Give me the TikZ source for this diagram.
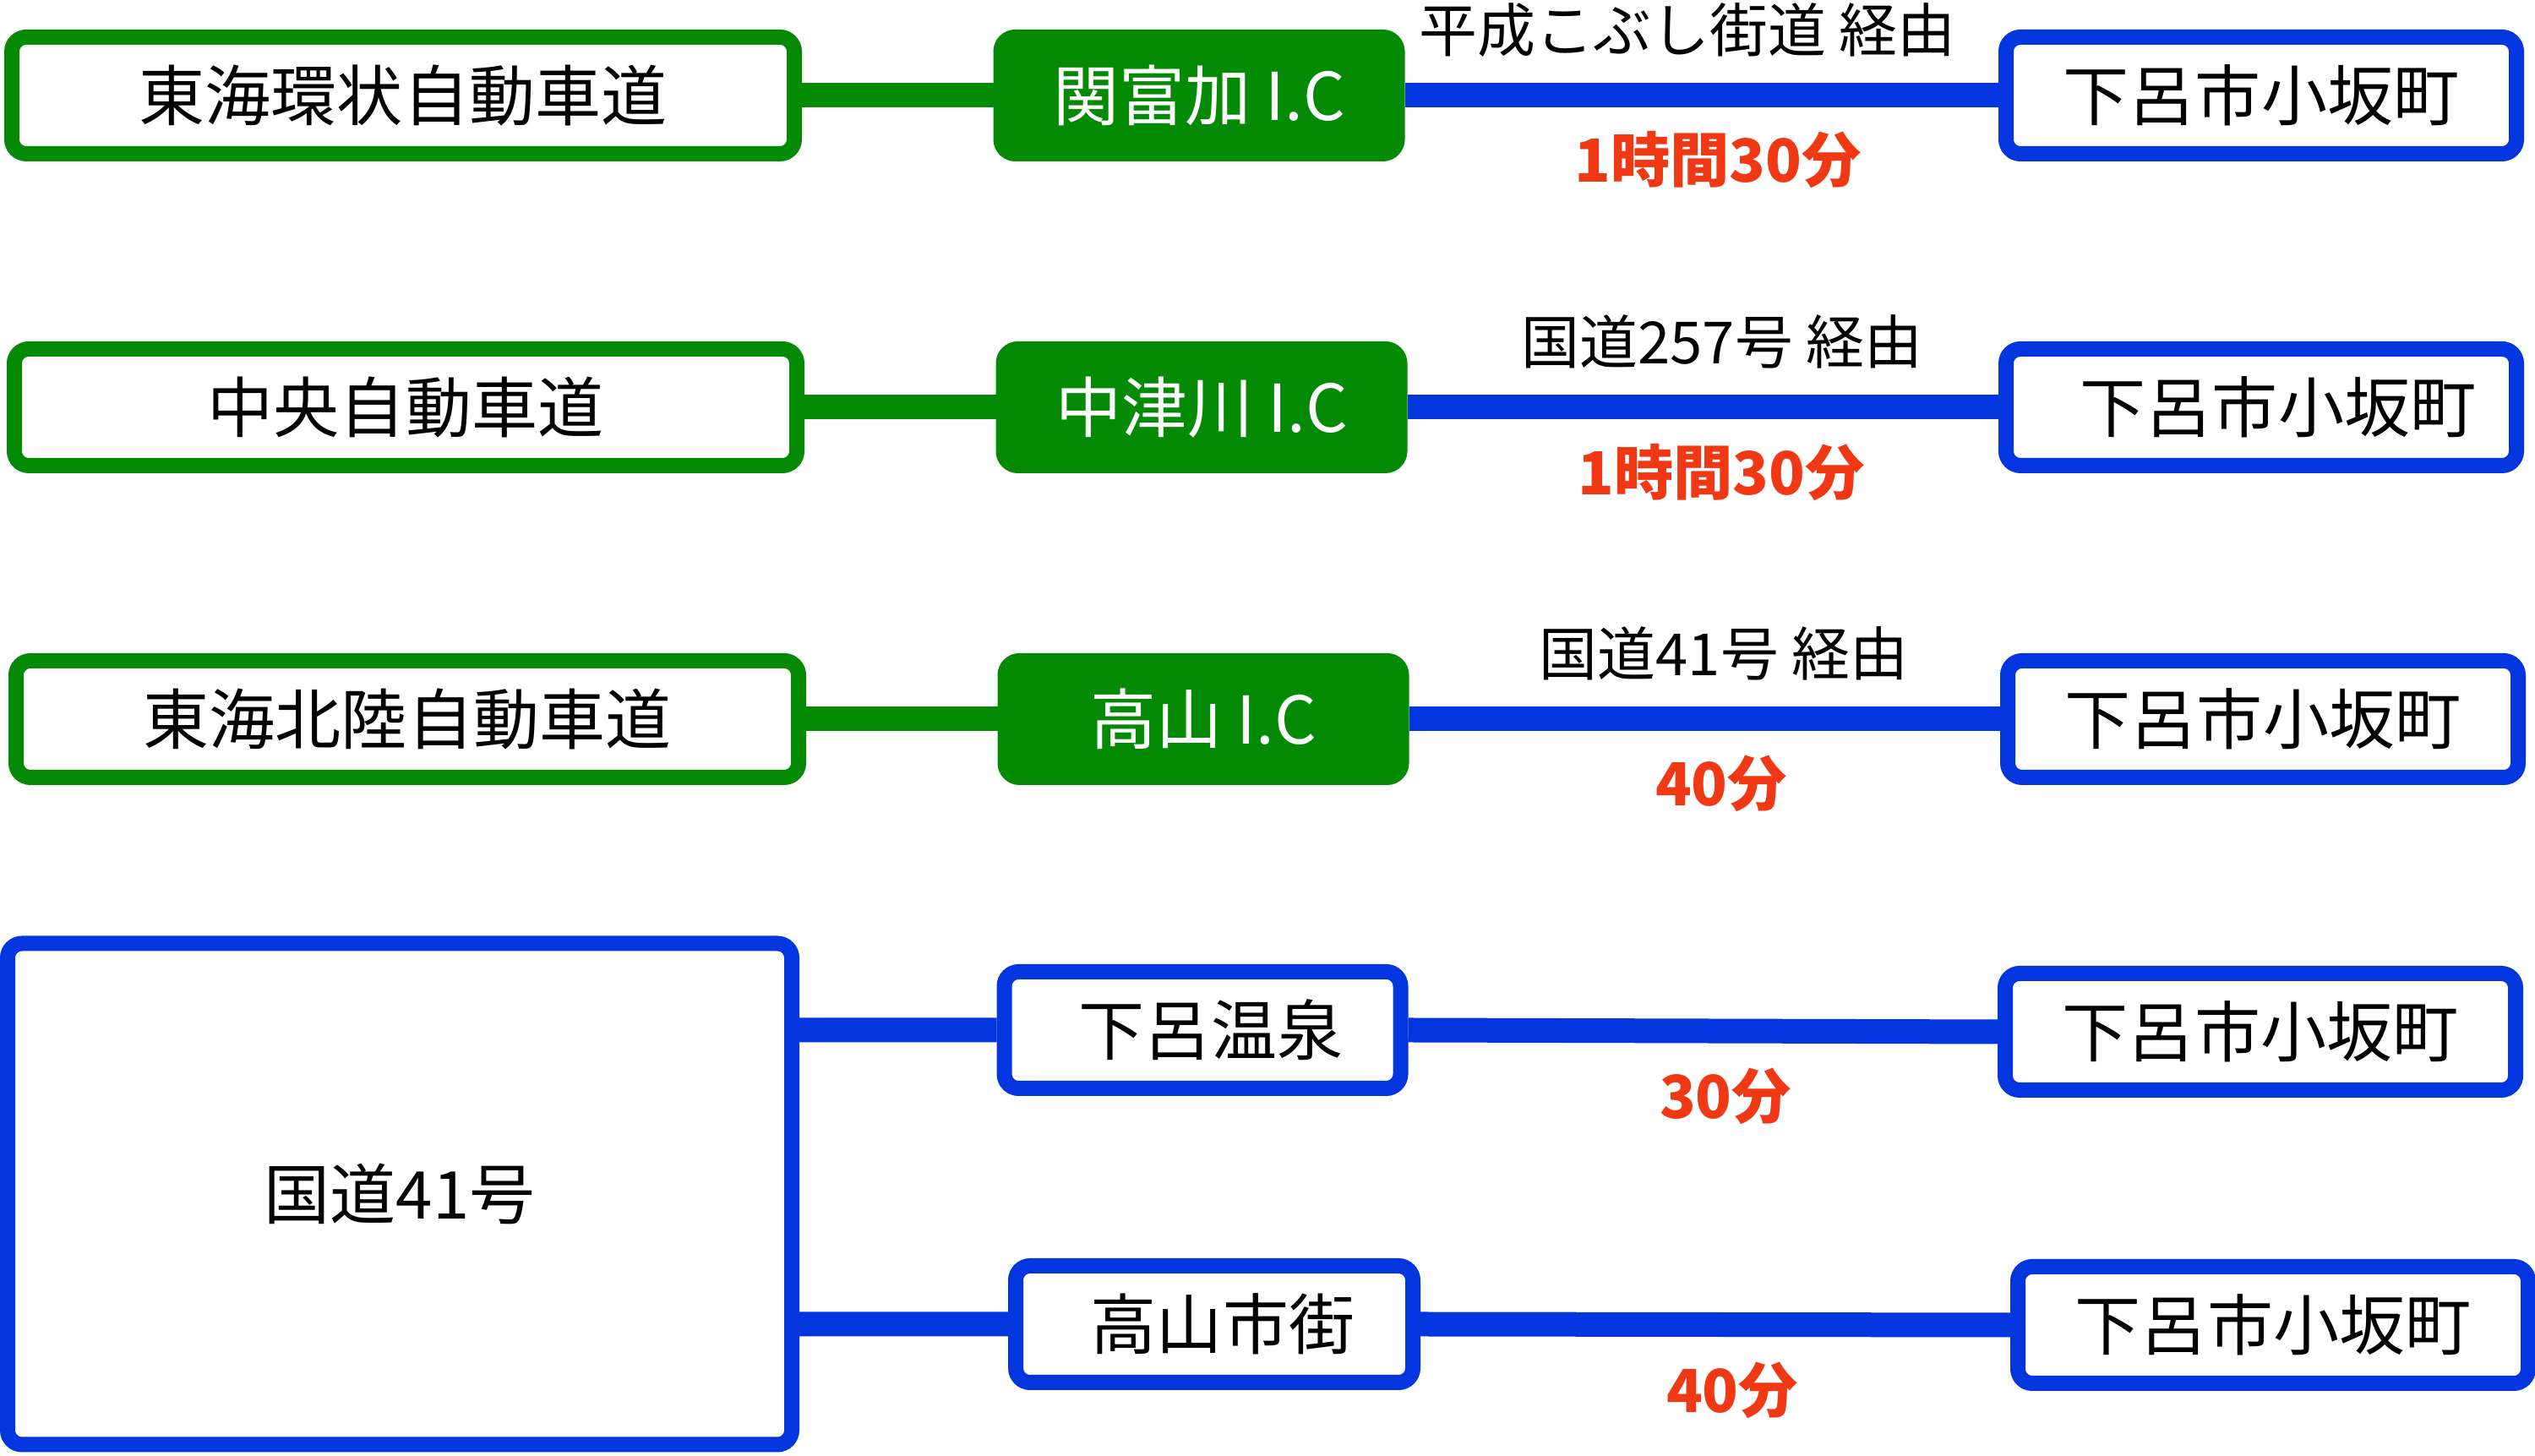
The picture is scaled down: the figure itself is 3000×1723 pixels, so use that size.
\documentclass[tikz,border=0pt]{standalone}
\usepackage{fontspec}
\setmainfont{Noto Sans CJK JP}
\usetikzlibrary{positioning}
\definecolor{hwgreen}{RGB}{5,138,5}
\definecolor{rtblue}{RGB}{3,54,222}
\definecolor{tmred}{RGB}{240,56,20}
\begin{document}
\begin{tikzpicture}[x=0.1mm,y=0.1mm,
    box/.style={draw,line width=1.8mm,rounded corners=1.7mm,fill=white,inner sep=0pt,minimum height=13.8mm,font=\fontsize{22.2pt}{26pt}\selectfont},
    hw/.style={box,draw=hwgreen,minimum width=92.6mm},
    ic/.style={box,draw=hwgreen,fill=hwgreen,text=white,minimum width=46.9mm},
    dest/.style={box,draw=rtblue,minimum width=60.4mm},
    road/.style={line width=2.9mm},
    via/.style={font=\fontsize{19.6pt}{22pt}\selectfont},
    time/.style={text=tmred,font=\fontsize{20pt}{24pt}\selectfont\bfseries}]
    \useasboundingbox (0,0) rectangle (3000,1723);
    % expressways
    \node[hw] (a1) at (477,1610) {東海環状自動車道};
    \node[ic,right of=a1,node distance=9.42cm] (i1) {関富加 I.C};
    \node[dest,right of=i1,node distance=12.57cm] (d1) {下呂市小坂町};
    \node[hw] (a2) at (480,1241) {中央自動車道};
    \node[ic,right of=a2,node distance=9.42cm] (i2) {中津川 I.C};
    \node[dest,right of=i2,node distance=12.54cm] (d2) {\hspace*{4mm}下呂市小坂町};
    \node[hw] (a3) at (482,872) {東海北陸自動車道};
    \node[ic,right of=a3,node distance=9.42cm] (i3) {高山 I.C};
    \node[dest,right of=i3,node distance=12.54cm] (d3) {下呂市小坂町};
    % route 41
    \node[box,draw=rtblue,minimum width=92.8mm,minimum height=59.3mm] (r41) at (473,310) {国道41号};
    \node[box,draw=rtblue,minimum width=46.9mm] (gero) at (1423,504) {\hspace*{2mm}下呂温泉};
    \node[box,draw=rtblue,minimum width=47mm] (taka) at (1437,156) {\hspace*{2mm}高山市街};
    \node[dest] (d4) at (2675,502) {下呂市小坂町};
    \node[dest] (d5) at (2690,155) {下呂市小坂町};
    \path[draw,road,hwgreen] (a1.east) -- (i1.west) (a2.east) -- (i2.west) (a3.east) -- (i3.west);
    \path[draw,road,rtblue] (i1.east) -- (d1.west) (i2.east) -- (d2.west) (i3.east) -- (d3.west);
    \path[draw,road,rtblue] (r41.east |- gero.west) -- (gero.west) (gero.east) -- (d4.west);
    \path[draw,road,rtblue] (r41.east |- taka.west) -- (taka.west) (taka.east) -- (d5.west);
    % labels
    \node[via] (v1) at (1997,1687) {平成こぶし街道 経由};
    \node[via] (v2) at (2038,1319) {国道257号 経由};
    \node[via] (v3) at (2040,950) {国道41号 経由};
    \node[time] (t1) at (2033,1534) {1時間30分};
    \node[time] (t2) at (2037,1164) {1時間30分};
    \node[time] (t3) at (2037,796) {40分};
    \node[time] (t4) at (2042,426) {30分};
    \node[time] (t5) at (2050,78) {40分};
\end{tikzpicture}
\end{document}
